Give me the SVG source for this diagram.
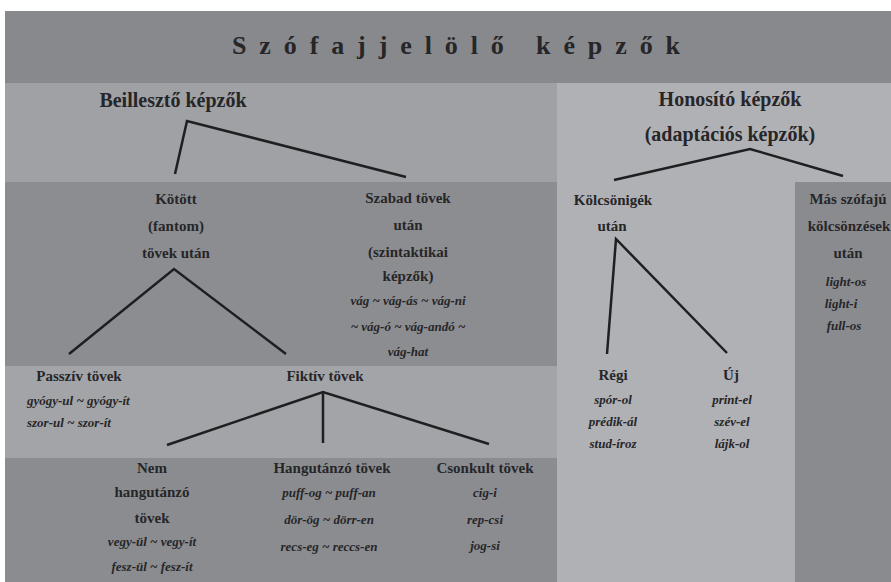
<svg xmlns="http://www.w3.org/2000/svg" width="891" height="582" viewBox="0 0 891 582">
<style>
  text { font-family: "Liberation Serif", "Times New Roman", serif; fill: #262628; }
  .h { font-size: 20px; font-weight: bold; text-anchor: middle; }
  .b { font-size: 15px; font-weight: bold; text-anchor: middle; }
  .i { font-size: 13px; font-weight: bold; font-style: italic; text-anchor: middle; }
  .il { font-size: 13px; font-weight: bold; font-style: italic; }
  .t { font-size: 26px; font-weight: bold; }
  .conn path { fill: none; stroke: #1f1f21; stroke-width: 2.5; stroke-linejoin: miter; }
</style>
<rect x="0" y="0" width="891" height="582" fill="#ffffff"/>
<g id="panels">
  <rect x="5" y="11" width="886" height="72" fill="#88898d"/>
  <rect x="5" y="83" width="552" height="99" fill="#a0a1a5"/>
  <rect x="557" y="83" width="334" height="499" fill="#b0b1b5"/>
  <rect x="795" y="182" width="96" height="400" fill="#8a8b8f"/>
  <rect x="5" y="182" width="552" height="184" fill="#8c8d91"/>
  <rect x="5" y="366" width="552" height="92" fill="#a3a4a8"/>
  <rect x="5" y="458" width="552" height="124" fill="#8b8c90"/>
</g>
<g id="title">
  <text class="t" x="232" y="54" textLength="448" lengthAdjust="spacing">Szófajjelölő képzők</text>
</g>
<g class="conn" id="connectors">
  <path d="M175,174 L187,121 L406,177"/>
  <path d="M614,180 L750,149 L843,176"/>
  <path d="M69,354 L174,269 L286,354"/>
  <path d="M607,354 L616,239 L727,353"/>
  <path d="M167,445 L323,392 L489,444"/>
  <path d="M323,392 L323,443"/>
</g>
<g id="beillereszto">
  <text class="h" x="173" y="107">Beillesztő képzők</text>
</g>
<g id="honosito">
  <text class="h" x="730" y="106">Honosító képzők</text>
  <text class="h" x="730" y="141">(adaptációs képzők)</text>
</g>
<g id="kotott">
  <text class="b" x="176" y="204">Kötött</text>
  <text class="b" x="176" y="231">(fantom)</text>
  <text class="b" x="176" y="258">tövek után</text>
</g>
<g id="szabad">
  <text class="b" x="408" y="203">Szabad tövek</text>
  <text class="b" x="408" y="230">után</text>
  <text class="b" x="408" y="257">(szintaktikai</text>
  <text class="b" x="408" y="281">képzők)</text>
  <text class="i" x="408" y="305">vág ~ vág-ás ~ vág-ni</text>
  <text class="i" x="408" y="331">~ vág-ó ~ vág-andó ~</text>
  <text class="i" x="408" y="356">vág-hat</text>
</g>
<g id="kolcsonigek">
  <text class="b" x="613" y="205">Kölcsönigék</text>
  <text class="b" x="612" y="231">után</text>
</g>
<g id="mas-szofaju">
  <text class="b" x="848" y="204">Más szófajú</text>
  <text class="b" x="849" y="231">kölcsönzések</text>
  <text class="b" x="848" y="258">után</text>
  <text class="i" x="846" y="286">light-os</text>
  <text class="i" x="841" y="308">light-i</text>
  <text class="i" x="844" y="330">full-os</text>
</g>
<g id="passziv">
  <text class="b" x="79" y="381">Passzív tövek</text>
  <text class="il" x="27" y="405">gyógy-ul ~ gyógy-ít</text>
  <text class="il" x="27" y="427">szor-ul ~ szor-ít</text>
</g>
<g id="fiktiv">
  <text class="b" x="325" y="381">Fiktív tövek</text>
</g>
<g id="regi">
  <text class="b" x="613" y="380">Régi</text>
  <text class="i" x="613" y="404">spór-ol</text>
  <text class="i" x="613" y="426">prédik-ál</text>
  <text class="i" x="613" y="448">stud-íroz</text>
</g>
<g id="uj">
  <text class="b" x="731" y="380">Új</text>
  <text class="i" x="732" y="404">print-el</text>
  <text class="i" x="732" y="426">szév-el</text>
  <text class="i" x="732" y="448">lájk-ol</text>
</g>
<g id="nem-hangutanzo">
  <text class="b" x="152" y="473">Nem</text>
  <text class="b" x="152" y="497">hangutánzó</text>
  <text class="b" x="152" y="523">tövek</text>
  <text class="i" x="152" y="546">vegy-ül ~ vegy-ít</text>
  <text class="i" x="152" y="571">fesz-ül ~ fesz-ít</text>
</g>
<g id="hangutanzo">
  <text class="b" x="332" y="473">Hangutánzó tövek</text>
  <text class="i" x="329" y="497">puff-og ~ puff-an</text>
  <text class="i" x="329" y="524">dör-ög ~ dörr-en</text>
  <text class="i" x="329" y="551">recs-eg ~ reccs-en</text>
</g>
<g id="csonkult">
  <text class="b" x="485" y="473">Csonkult tövek</text>
  <text class="i" x="485" y="497">cig-i</text>
  <text class="i" x="485" y="524">rep-csi</text>
  <text class="i" x="485" y="550">jog-si</text>
</g>
</svg>
